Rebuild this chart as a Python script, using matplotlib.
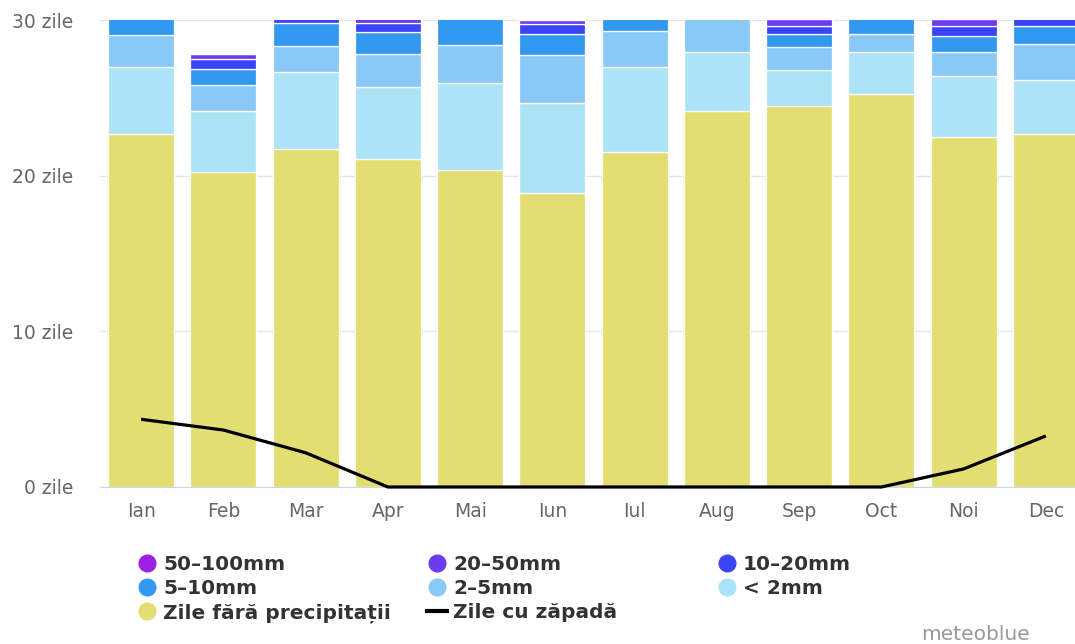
import numpy as np
import matplotlib.pyplot as plt
from matplotlib.lines import Line2D

# monthly precipitation day counts
months = ['Ian', 'Feb', 'Mar', 'Apr', 'Mai', 'Iun', 'Iul', 'Aug', 'Sep', 'Oct', 'Noi', 'Dec']
dry = [22.68, 20.26, 21.73, 21.09, 20.36, 18.89, 21.54, 24.15, 24.47, 25.22, 22.50, 22.68]
lt2 = [4.30, 3.91, 4.95, 4.63, 5.59, 5.80, 5.46, 3.79, 2.32, 2.72, 3.88, 3.49]
mm2_5 = [2.06, 1.65, 1.67, 2.12, 2.42, 3.04, 2.29, 2.20, 1.47, 1.16, 1.56, 2.31]
mm5_10 = [1.40, 1.05, 1.48, 1.37, 1.80, 1.37, 1.20, 0.60, 0.82, 1.20, 1.05, 1.16]
mm10_20 = [0.35, 0.64, 0.50, 0.62, 0.30, 0.62, 0.30, 0.20, 0.56, 0.30, 0.65, 0.50]
mm20_50 = [0.15, 0.29, 0.15, 0.30, 0.10, 0.30, 0.10, 0.10, 0.40, 0.10, 0.40, 0.15]
mm50_100 = [0.02, 0.00, 0.02, 0.02, 0.02, 0.02, 0.02, 0.01, 0.05, 0.02, 0.02, 0.02]
snow = [4.35, 3.66, 2.20, 0, 0, 0, 0, 0, 0, 0, 1.16, 3.28]
yticks = [0, 10, 20, 30]

series = [
    ('Zile fără precipitații', dry, '#e2de72'),
    ('< 2mm', lt2, '#ade3f6'),
    ('2–5mm', mm2_5, '#8ac8f8'),
    ('5–10mm', mm5_10, '#3399f0'),
    ('10–20mm', mm10_20, '#3b45f5'),
    ('20–50mm', mm20_50, '#6a3bf0'),
    ('50–100mm', mm50_100, '#9b22e3'),
]

plt.rcParams['font.family'] = 'DejaVu Sans'

fig = plt.figure(figsize=(10.75, 6.44), dpi=100)
ax = fig.add_axes([100/1075, 157/644, 987/1075, 467/644])

x = np.arange(len(months))
bottom = np.zeros(len(months))
for name, vals, col in series:
    ax.bar(x, vals, 0.8, bottom=bottom, color=col, edgecolor='white',
           linewidth=0.9, zorder=2)
    bottom += np.array(vals)

ax.plot(x, snow, color='black', lw=2.3, zorder=3, clip_on=False,
        solid_capstyle='butt')

ax.set_xlim(-0.5, 11.5)
ax.set_ylim(0, 30)
ax.set_yticks(yticks)
ax.set_yticklabels([f'{v} zile' for v in yticks])
ax.set_xticks(x)
ax.set_xticklabels(months)
ax.grid(axis='y', color='#e6e6e6', lw=1, zorder=0)
ax.set_axisbelow(True)
for s in ['top', 'right', 'left']:
    ax.spines[s].set_visible(False)
ax.spines['bottom'].set_color('#ccd6eb')
ax.spines['bottom'].set_zorder(1)
ax.tick_params(axis='y', length=0, pad=19, labelsize=13.5, labelcolor='#666666')
ax.tick_params(axis='x', length=0, pad=10.5, labelsize=13.5, labelcolor='#666666')

# legend, three columns as in the original
cols = {name: col for name, vals, col in series}

def dot(name):
    return Line2D([], [], ls='none', marker='o', markersize=12,
                  markerfacecolor=cols[name], markeredgecolor=cols[name])

columns = [
    (['50–100mm', '5–10mm', 'Zile fără precipitații'], 137),
    (['20–50mm', '2–5mm', 'Zile cu zăpadă'], 427),
    (['10–20mm', '< 2mm'], 717),
]
for names, xpos in columns:
    handles = []
    for n in names:
        if n == 'Zile cu zăpadă':
            handles.append(Line2D([], [], color='black', lw=3))
        else:
            handles.append(dot(n))
    leg = fig.legend(handles, names, loc='upper left',
                     bbox_to_anchor=(xpos/1075, 1 - 555/644),
                     frameon=False, borderpad=0, borderaxespad=0,
                     handlelength=1.0, handletextpad=0.3, labelspacing=0.25,
                     prop={'weight': 'bold', 'size': 14.5})
    for t in leg.get_texts():
        t.set_color('#333333')

fig.text(1030/1075, 1 - 640/644, 'meteoblue', ha='right', va='baseline',
         fontsize=14.5, color='#999999')

fig.savefig('out.png', dpi=100)
